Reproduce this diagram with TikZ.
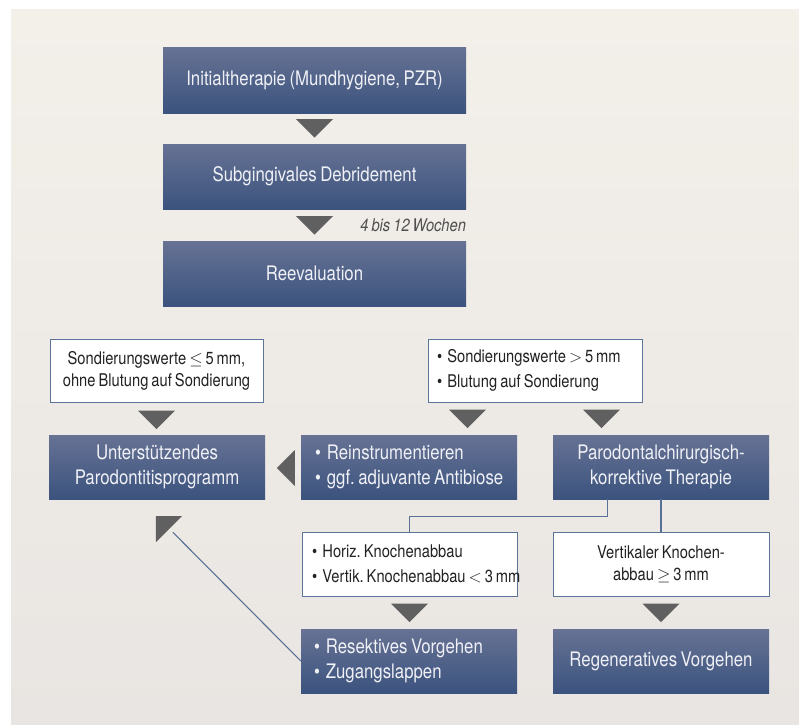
\documentclass[tikz,border=0pt]{standalone}
\usepackage{fontspec}
\setmainfont{TeX Gyre Heros}[FakeStretch=0.84, WordSpace=0.75]
\usetikzlibrary{calc}
\definecolor{bgtop}{RGB}{243,240,234}
\definecolor{bgbot}{RGB}{233,229,226}
\definecolor{boxtop}{RGB}{103,114,148}
\definecolor{boxbot}{RGB}{59,83,126}
\definecolor{boxtext}{RGB}{240,241,246}
\definecolor{wborder}{RGB}{92,116,152}
\definecolor{wtext}{RGB}{34,34,34}
\definecolor{trifill}{RGB}{96,96,96}
\definecolor{linecol}{RGB}{88,112,150}
\definecolor{notecol}{RGB}{80,80,80}
\newcommand\tline[1]{\mbox{\spaceskip=0pt\xspaceskip=0pt #1}}
\newcommand\bitem[1]{\tline{•\hspace{0.3em}#1}}
\frenchspacing
\begin{document}
\begin{tikzpicture}[x=1pt,y=-1pt,
  bluebox/.style={rectangle, top color=boxtop, bottom color=boxbot, draw=none,
    text=boxtext, font=\fontsize{20}{25}\selectfont, inner sep=0pt,
    minimum height=64pt},
  whitebox/.style={rectangle, fill=white, draw=wborder, line width=1pt,
    text=wtext, font=\fontsize{17.5}{22}\selectfont, inner sep=0pt,
    minimum height=63pt},
  bulletbox/.style={align=left, font=\fontsize{#1}{25}\selectfont},
  conn/.style={draw=linecol, line width=1.1pt},
  note/.style={text=notecol, font=\fontsize{17.5}{20}\selectfont\itshape, inner sep=0pt},
  downtri/.pic={\fill[trifill] (-18.5,0) -- (18.5,0) -- (0,18.5) -- cycle;}
]
\useasboundingbox (0,0) rectangle (799,724);
\shade[top color=bgtop, bottom color=bgbot] (11,9) rectangle (799,724);

% top column
\node[bluebox, minimum width=303pt, minimum height=66pt] (b1) at (314.5,80) {Initialtherapie (Mundhygiene, PZR)};
\node[bluebox, minimum width=303pt, minimum height=65pt] (b2) at (314.5,176.5) {Subgingivales Debridement};
\node[bluebox, minimum width=303pt, minimum height=65pt] (b3) at (314.5,273.5) {Reevaluation};
\node[note, anchor=east] (n1) at ($(b2.south east)+(0,16)$) {4 bis 12\,Wochen};

% white condition boxes
\node[whitebox, minimum width=213pt, align=center] (w1) at (156.5,370.5)
  {\tline{Sondierungswerte $\leq$\,5\,mm,}\\\tline{ohne Blutung auf Sondierung}};
\node[whitebox, bulletbox=17.5, text width=196pt, inner xsep=9pt] (w2) at (535,370.5)
  {\bitem{Sondierungswerte $>$\,5\,mm}\\\bitem{Blutung auf Sondierung}};

% middle row
\node[bluebox, minimum width=216pt, align=center] (u) at (157,467) {Unterstützendes\\Parodontitisprogramm};
\node[bluebox, bulletbox=20, text width=188pt, inner xsep=14pt] (r) at (409,467)
  {\bitem{Reinstrumentieren}\\\bitem{ggf. adjuvante Antibiose}};
\node[bluebox, minimum width=216pt, align=center] (p) at (661,467) {Parodontalchirurgisch-\\\tline{korrektive Therapie}};

% lower white boxes
\node[whitebox, bulletbox=17.5, text width=195pt, inner xsep=10pt, minimum height=64pt] (w3) at (409.5,564)
  {\bitem{Horiz. Knochenabbau}\\\bitem{Vertik. Knochenabbau $<$\,3\,mm}};
\node[whitebox, minimum width=216pt, minimum height=64pt, align=center] (w4) at (661,564)
  {\tline{Vertikaler Knochen-}\\\tline{abbau $\geq$\,3\,mm}};

% bottom row
\node[bluebox, bulletbox=20, text width=190pt, inner xsep=13pt] (s) at (409,661)
  {\bitem{Resektives Vorgehen}\\\bitem{Zugangslappen}};
\node[bluebox, minimum width=216pt, align=center] (g) at (661,661) {Regeneratives Vorgehen};

% down triangles
\pic at ($(b1.south)+(0,6)$) {downtri};
\pic at ($(b2.south)+(0,7)$) {downtri};
\pic at ($(w1.south)+(0,8)$) {downtri};
\pic at ($(w2.south west)+(40,7)$) {downtri};
\pic at ($(w2.south east)+(-41,7)$) {downtri};
\pic at ($(w3.south)+(0,7)$) {downtri};
\pic at ($(w4.south)+(0,7)$) {downtri};

% left-pointing triangle
\fill[trifill] ($(r.west)+(-24,1)$) -- ($(r.west)+(-6,-17)$) -- ($(r.west)+(-6,19)$) -- cycle;

% connectors
\draw[conn] ($(p.south west)+(55,0)$) -- ++(0,17) -| (w3.north);
\draw[conn] (p.south) -- (w4.north);
\coordinate (tip) at ($(u.south west)+(124,33)$);
\draw[conn] (s.west) -- (tip);
\fill[trifill] ($(u.south west)+(107,17)$) -- ($(u.south west)+(133,17)$) -- ($(u.south west)+(107,43)$) -- cycle;
\end{tikzpicture}
\end{document}
